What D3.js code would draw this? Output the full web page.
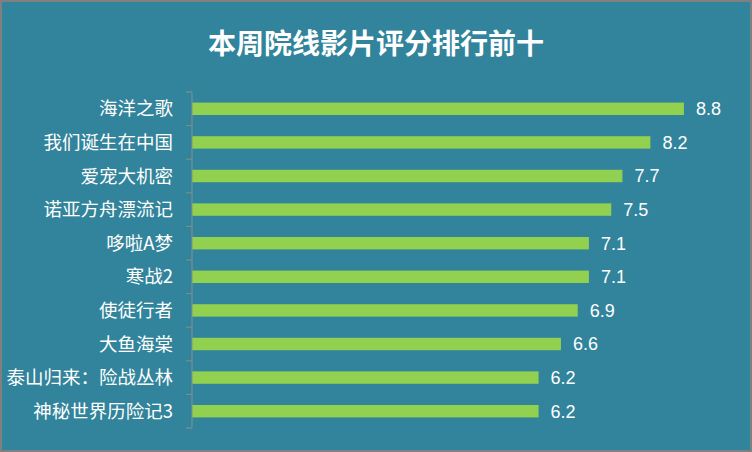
<!DOCTYPE html>
<html>
<head>
<meta charset="utf-8">
<script src="https://cdn.jsdelivr.net/npm/d3@7"></script>
<style>
  html, body { margin: 0; padding: 0; background: #fff; }
  svg { display: block; }
</style>
</head>
<body>
<div id="vis"></div>
<script>
var films = ["海洋之歌", "我们诞生在中国", "爱宠大机密", "诺亚方舟漂流记", "哆啦A梦",
             "寒战2", "使徒行者", "大鱼海棠", "泰山归来：险战丛林", "神秘世界历险记3"];
var scores = [8.8, 8.2, 7.7, 7.5, 7.1, 7.1, 6.9, 6.6, 6.2, 6.2];
var title = "本周院线影片评分排行前十";

var W = 752, H = 452;
var margin = {top: 92, right: 0, bottom: 24, left: 192};

var svg = d3.select("#vis").append("svg")
  .attr("width", W)
  .attr("height", H);

svg.append("rect")
  .attr("x", 1).attr("y", 1)
  .attr("width", W - 2).attr("height", H - 2)
  .attr("fill", "#31849b")
  .attr("stroke", "#808080")
  .attr("stroke-width", 2);

svg.append("text")
  .attr("x", W / 2)
  .attr("y", 54)
  .attr("text-anchor", "middle")
  .attr("fill", "#fff")
  .attr("font-family", "'Noto Sans CJK SC', sans-serif")
  .attr("font-weight", "bold")
  .attr("font-size", 28)
  .text(title);

var data = films.map(function(d, i) { return {name: d, score: scores[i]}; });

var y = d3.scaleBand()
  .domain(films)
  .range([margin.top, 428])
  .paddingInner(0.63)
  .paddingOuter(0.315);

var x = d3.scaleLinear()
  .domain([0, 10])
  .range([margin.left, 751]);

// bars
svg.append("g")
  .selectAll("rect")
  .data(data)
  .enter().append("rect")
    .attr("x", x(0))
    .attr("y", function(d) { return y(d.name); })
    .attr("width", function(d) { return x(d.score) - x(0); })
    .attr("height", y.bandwidth())
    .attr("fill", "#92d050");

// category axis
var axis = svg.append("g")
  .attr("transform", "translate(" + margin.left + ",0)");

axis.append("line")
  .attr("x1", 0).attr("x2", 0)
  .attr("y1", margin.top).attr("y2", 428)
  .attr("stroke", "#8c8c8c");

var bounds = d3.range(films.length + 1).map(function(i) { return margin.top + i * (428 - margin.top) / films.length; });
axis.selectAll("line.tick")
  .data(bounds)
  .enter().append("line")
    .attr("class", "tick")
    .attr("x1", -6).attr("x2", 0)
    .attr("y1", function(d) { return d; })
    .attr("y2", function(d) { return d; })
    .attr("stroke", "#8c8c8c");

axis.selectAll("text")
  .data(films)
  .enter().append("text")
    .attr("x", -19)
    .attr("y", function(d) { return y(d) + y.bandwidth() / 2; })
    .attr("dy", "0.36em")
    .attr("text-anchor", "end")
    .attr("fill", "#fff")
    .attr("font-family", "'Noto Sans CJK SC', sans-serif")
    .attr("font-size", 18.5)
    .text(function(d) { return d; });

// value labels
svg.append("g")
  .selectAll("text")
  .data(data)
  .enter().append("text")
    .attr("x", function(d) { return x(d.score) + 12; })
    .attr("y", function(d) { return y(d.name) + y.bandwidth() / 2; })
    .attr("dy", "0.36em")
    .attr("fill", "#fff")
    .attr("font-family", "'Liberation Sans', Arial, sans-serif")
    .attr("font-size", 18)
    .text(function(d) { return d.score.toFixed(1); });
</script>
</body>
</html>
